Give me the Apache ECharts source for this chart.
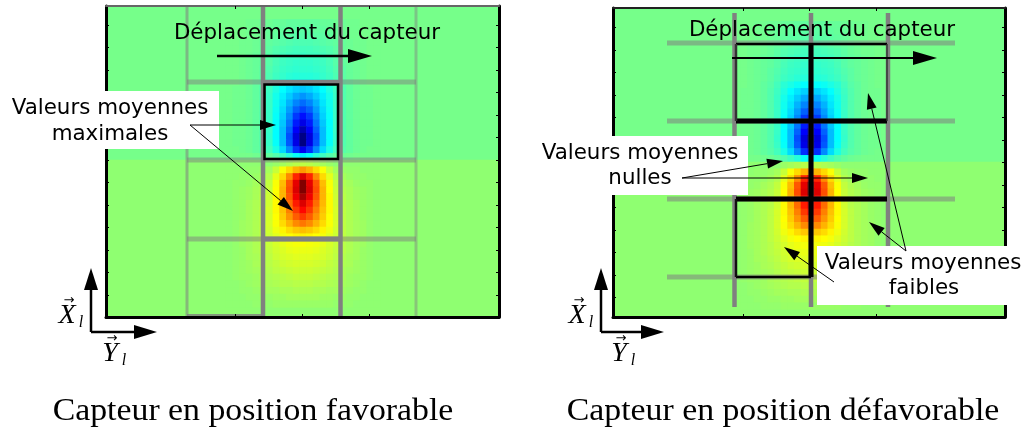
<!DOCTYPE html>
<html>
<head>
<meta charset="utf-8">
<title>Capteur</title>
<script src="https://cdn.jsdelivr.net/npm/echarts@6/dist/echarts.min.js"></script>
<style>
  html, body { margin: 0; padding: 0; background: #fff; }
  #chart { width: 1027px; height: 432px; }
</style>
</head>
<body>
<div id="chart"></div>
<script>
// champ, en % de la valeur max (-100 bleu fonce, +100 rouge fonce)
const fieldValues = [
  [-2,-2,-2,-3,-3,-4,-4,-5,-5,-6,-6,-6,-6,-6,-5,-5,-4,-4,-3,-3,-2,-2,-2],
  [-2,-2,-2,-3,-3,-4,-5,-5,-6,-6,-7,-7,-7,-6,-6,-5,-5,-4,-3,-3,-2,-2,-2],
  [-2,-2,-2,-3,-3,-4,-5,-6,-7,-7,-8,-8,-8,-7,-7,-6,-5,-4,-3,-3,-2,-2,-2],
  [-2,-2,-3,-3,-4,-5,-6,-7,-8,-9,-10,-10,-10,-9,-8,-7,-6,-5,-4,-3,-3,-2,-2],
  [-2,-2,-3,-3,-4,-5,-7,-9,-10,-11,-12,-12,-12,-11,-10,-9,-7,-5,-4,-3,-3,-2,-2],
  [-2,-2,-3,-4,-5,-6,-8,-10,-12,-13,-13,-14,-13,-13,-12,-10,-8,-6,-5,-4,-3,-2,-2],
  [-2,-2,-3,-4,-5,-6,-8,-11,-13,-14,-15,-15,-15,-14,-13,-11,-8,-6,-5,-4,-3,-2,-2],
  [-2,-2,-3,-4,-5,-7,-9,-12,-14,-15,-16,-16,-16,-15,-14,-12,-9,-7,-5,-4,-3,-2,-2],
  [-2,-2,-3,-4,-5,-7,-10,-13,-15,-17,-18,-18,-18,-17,-15,-13,-10,-7,-5,-4,-3,-2,-2],
  [-2,-2,-3,-4,-6,-8,-12,-17,-20,-23,-25,-26,-25,-23,-20,-17,-12,-8,-6,-4,-3,-2,-2],
  [-2,-3,-3,-4,-6,-9,-13,-19,-25,-30,-34,-36,-34,-30,-25,-19,-13,-9,-6,-4,-3,-3,-2],
  [-2,-3,-3,-4,-6,-9,-14,-21,-28,-35,-42,-46,-42,-35,-28,-21,-14,-9,-6,-4,-3,-3,-2],
  [-2,-3,-3,-4,-6,-9,-14,-22,-30,-40,-49,-54,-49,-40,-30,-22,-14,-9,-6,-4,-3,-3,-2],
  [-2,-3,-3,-4,-6,-9,-14,-23,-32,-44,-56,-62,-56,-44,-32,-23,-14,-9,-6,-4,-3,-3,-2],
  [-2,-3,-3,-4,-6,-9,-14,-24,-34,-48,-64,-72,-64,-48,-34,-24,-14,-9,-6,-4,-3,-3,-2],
  [-2,-3,-3,-4,-6,-9,-14,-25,-36,-52,-70,-80,-70,-52,-36,-25,-14,-9,-6,-4,-3,-3,-2],
  [-2,-3,-3,-4,-6,-9,-14,-25,-38,-56,-76,-90,-76,-56,-38,-25,-14,-9,-6,-4,-3,-3,-2],
  [-2,-3,-3,-4,-6,-9,-15,-25,-38,-60,-82,-99,-82,-60,-38,-25,-15,-9,-6,-4,-3,-3,-2],
  [-2,-3,-3,-4,-6,-9,-14,-24,-38,-58,-80,-100,-80,-58,-38,-24,-14,-9,-6,-4,-3,-3,-2],
  [-2,-2,-3,-4,-6,-8,-12,-20,-32,-48,-66,-78,-66,-48,-32,-20,-12,-8,-6,-4,-3,-2,-2],
  [-2,-2,-2,-2,-3,-4,-6,-9,-13,-18,-24,-28,-24,-18,-13,-9,-6,-4,-3,-2,-2,-2,-2],
  [3,3,3,3,3,3,3,5,7,9,11,12,11,9,7,5,3,3,3,3,3,3,3],
  [3,3,3,4,4,5,7,14,24,32,40,45,40,32,24,14,7,5,4,4,3,3,3],
  [3,3,4,4,5,7,10,20,32,48,68,82,68,48,32,20,10,7,5,4,4,3,3],
  [3,4,4,5,7,9,13,24,38,58,80,100,80,58,38,24,13,9,7,5,4,4,3],
  [3,4,5,6,8,10,14,25,40,60,82,100,82,60,40,25,14,10,8,6,5,4,3],
  [3,4,5,6,8,11,15,26,40,58,78,92,78,58,40,26,15,11,8,6,5,4,3],
  [3,4,5,7,9,11,16,26,39,54,70,82,70,54,39,26,16,11,9,7,5,4,3],
  [3,4,5,7,9,12,17,26,37,50,64,74,64,50,37,26,17,12,9,7,5,4,3],
  [3,4,5,7,9,12,17,25,35,46,57,64,57,46,35,25,17,12,9,7,5,4,3],
  [3,4,6,7,9,12,17,24,32,40,48,52,48,40,32,24,17,12,9,7,6,4,3],
  [3,4,6,7,9,12,16,22,27,32,36,38,36,32,27,22,16,12,9,7,6,4,3],
  [3,4,6,7,9,12,15,19,23,25,27,28,27,25,23,19,15,12,9,7,6,4,3],
  [3,4,6,7,9,11,14,17,20,22,23,24,23,22,20,17,14,11,9,7,6,4,3],
  [3,4,5,7,9,11,13,16,18,20,21,21,21,20,18,16,13,11,9,7,5,4,3],
  [3,4,5,7,8,10,12,15,17,18,19,19,19,18,17,15,12,10,8,7,5,4,3],
  [3,4,5,6,8,9,11,13,15,16,17,17,17,16,15,13,11,9,8,6,5,4,3],
  [3,4,5,6,7,8,10,12,13,14,15,15,15,14,13,12,10,8,7,6,5,4,3],
  [3,4,5,5,6,8,9,10,11,12,13,13,13,12,11,10,9,8,6,5,5,4,3],
  [3,3,4,5,6,7,8,9,10,10,11,11,11,10,10,9,8,7,6,5,4,3,3],
  [3,3,4,4,5,6,7,7,8,8,9,9,9,8,8,7,7,6,5,4,4,3,3],
  [3,3,3,4,4,5,5,6,6,7,7,7,7,7,6,6,5,5,4,4,3,3,3],
  [3,3,3,3,4,4,4,5,5,5,5,5,5,5,5,5,4,4,4,3,3,3,3]
];
// fond du champ : moitie haute, moitie basse
const backgroundValues = [-2, 3];
const xTickValues = [-1, 0, 1];
const yTickValues = [-6, -5, -4, -3, -2, -1, 0, 1, 2, 3, 4, 5, 6];

const jet = ['#000080', '#0000ff', '#0080ff', '#00ffff', '#80ff80', '#ffff00', '#ff8000', '#ff0000', '#800000'];
const sans = '21.4px "DejaVu Sans"';
const serif = '31px "Liberation Serif"';

const panels = [
  { left: 106, right: 499, top: 6, bottom: 317, cx: 303, cy: 160, tickX: 302, tickY: 160, pitchX: 67, topColor: '#666' },
  { left: 613, right: 1005, top: 8, bottom: 317, cx: 811, cy: 162, tickX: 809.5, tickY: 162.5, pitchX: 66.7, topColor: '#222' }
];
const cell = 6.7;
const pitchY = 22.5;

const option = {
  animation: false,
  backgroundColor: '#fff',
  visualMap: { show: false, min: -100, max: 100, dimension: 2, inRange: { color: jet } },
  grid: [], xAxis: [], yAxis: [], series: [],
  graphic: { elements: [] }
};

function hiddenCategory(gridIndex, data, extra) {
  return Object.assign({
    type: 'category', gridIndex, data,
    axisLine: { show: false }, axisTick: { show: false }, axisLabel: { show: false }, splitLine: { show: false }
  }, extra);
}

function frameAxis(gridIndex, position, min, max, customValues, lineWidth, color) {
  return {
    type: 'value', gridIndex, position, min, max, z: 5,
    axisLine: { show: true, onZero: false, lineStyle: { color: color || '#000', width: lineWidth } },
    axisTick: { show: true, inside: true, length: 3, customValues, lineStyle: { color: '#000', width: 1 } },
    axisLabel: { show: false }, splitLine: { show: false }
  };
}

function addHeatmap(box, rows) {
  const g = option.grid.length;
  const xi = option.xAxis.length, yi = option.yAxis.length;
  option.grid.push(Object.assign({ outerBoundsMode: 'none' }, box));
  option.xAxis.push(hiddenCategory(g, rows[0].map((v, i) => i)));
  option.yAxis.push(hiddenCategory(g, rows.map((v, i) => i), { inverse: true }));
  const data = [];
  rows.forEach((row, y) => row.forEach((v, x) => data.push([x, y, v])));
  option.series.push({ type: 'heatmap', xAxisIndex: xi, yAxisIndex: yi, data, z: 2, progressive: 0, silent: true });
}

panels.forEach(p => {
  const w = p.right - p.left, h = p.bottom - p.top;
  addHeatmap({ left: p.left, top: p.top, width: w, height: p.cy - p.top }, [[backgroundValues[0]]]);
  addHeatmap({ left: p.left, top: p.cy, width: w, height: p.bottom - p.cy }, [[backgroundValues[1]]]);
  const rowsAbove = 21;
  addHeatmap({
    left: p.cx - 11.5 * cell, top: p.cy - rowsAbove * cell,
    width: 23 * cell, height: fieldValues.length * cell
  }, fieldValues);

  // cadre et graduations
  const g = option.grid.length;
  option.grid.push({ left: p.left, top: p.top, width: w, height: h, outerBoundsMode: 'none' });
  const xMin = (p.left - p.tickX) / p.pitchX, xMax = (p.right - p.tickX) / p.pitchX;
  const yMin = (p.tickY - p.bottom) / pitchY, yMax = (p.tickY - p.top) / pitchY;
  option.xAxis.push(frameAxis(g, 'bottom', xMin, xMax, xTickValues, 3));
  option.xAxis.push(frameAxis(g, 'top', xMin, xMax, xTickValues, 2, p.topColor));
  option.yAxis.push(frameAxis(g, 'left', yMin, yMax, yTickValues, 3));
  option.yAxis.push(frameAxis(g, 'right', yMin, yMax, yTickValues, 3));
  // une serie vide par grille pour garder les axes
  option.series.push({ type: 'scatter', xAxisIndex: option.xAxis.length - 1, yAxisIndex: option.yAxis.length - 1, data: [], silent: true });
});

const els = option.graphic.elements;
const Z_LINES = 3, Z_BOX = 6, Z_TEXT = 7, Z_ARROW = 8;

function seg(x1, y1, x2, y2, width, color, opacity, z) {
  els.push({
    type: 'line', silent: true, z: z || Z_LINES,
    shape: { x1, y1, x2, y2 },
    style: { stroke: color, lineWidth: width, opacity: opacity === undefined ? 1 : opacity }
  });
}
function arrow(x1, y1, x2, y2, width, headLen, headW) {
  const len = Math.hypot(x2 - x1, y2 - y1);
  const ux = (x2 - x1) / len, uy = (y2 - y1) / len;
  const bx = x2 - ux * headLen, by = y2 - uy * headLen;
  seg(x1, y1, bx, by, width, '#000', 1, Z_ARROW);
  els.push({
    type: 'polygon', silent: true, z: Z_ARROW,
    shape: { points: [[x2, y2], [bx - uy * headW / 2, by + ux * headW / 2], [bx + uy * headW / 2, by - ux * headW / 2]] },
    style: { fill: '#000' }
  });
}
function whiteBox(x, y, width, height) {
  els.push({ type: 'rect', silent: true, z: Z_BOX, shape: { x, y, width, height }, style: { fill: '#fff' } });
}
function label(text, x, y, font, scaleX) {
  els.push({
    type: 'text', silent: true, z: Z_TEXT, x, y, scaleX: scaleX || 1,
    style: { text, x: 0, y: 0, font: font || sans, fill: '#000', align: 'center', verticalAlign: 'middle' }
  });
}
function axisMark(letter, x, y) {
  label(letter, x, y, 'italic 28px "Liberation Serif"');
  label('l', x + 14, y + 7, 'italic 16px "Liberation Serif"');
  label('\u2192', x + 2, y - 15, '13px "DejaVu Sans"');
}

const GRAY = '#808080';

// --- panneau de gauche ---
seg(187, 6, 187, 316, 3, GRAY, 0.55);
seg(416, 6, 416, 316, 3, GRAY, 0.45);
[82, 160, 239].forEach(y => seg(187, y, 416, y, 5, GRAY, 0.5));
seg(264, 82, 339, 82, 4, GRAY);
seg(264, 239, 339, 239, 5, GRAY);
seg(187, 315, 263, 315, 2, GRAY, 0.8);
seg(263, 6, 263, 316, 4.5, GRAY);
seg(340.5, 6, 340.5, 316, 4.5, GRAY);
els.push({ type: 'rect', silent: true, z: Z_LINES, shape: { x: 264.5, y: 84.5, width: 73.5, height: 74.5 }, style: { fill: null, stroke: '#000', lineWidth: 2.5 } });

label('Déplacement du capteur', 307, 33);
arrow(217, 56, 372, 56, 2.5, 24, 14);
whiteBox(0, 91, 219, 58);
label('Valeurs moyennes', 110, 108);
label('maximales', 110, 134);
arrow(190, 125, 276, 125, 1, 16, 10);
arrow(190, 125, 293, 211, 1, 16, 10);

arrow(91, 332, 91, 268, 2.5, 22, 14);
arrow(91, 332, 157, 332, 2.5, 23, 14);
axisMark('X', 67, 316);
axisMark('Y', 110, 354);
label('Capteur en position favorable', 253, 412, serif, 1.09);

// --- panneau de droite ---
[43, 121, 199, 277].forEach(y => seg(667, y, 955, y, 5, GRAY, 0.55));
seg(734.5, 13, 734.5, 307, 4.5, GRAY);
seg(811, 13, 811, 307, 4.5, GRAY);
seg(888, 13, 888, 307, 4.5, GRAY);
seg(736, 44, 887, 44, 2.5, '#000');
seg(736, 121, 887, 121, 5, '#000');
seg(736, 199, 887, 199, 5, '#000');
seg(736, 277, 811, 277, 2.5, '#000');
seg(811, 44, 811, 277, 5, '#000');
seg(736, 44, 736, 121, 2.5, '#333');
seg(736, 199, 736, 277, 2.5, '#111');
seg(887, 44, 887, 121, 1.5, '#333');

label('Déplacement du capteur', 822, 30);
arrow(732, 58, 937, 58, 2, 24, 14);

whiteBox(530, 136, 218, 59);
label('Valeurs moyennes', 640, 153);
label('nulles', 640, 178);
arrow(682, 178, 783, 161, 1, 16, 10);
arrow(682, 178, 868, 178, 1, 16, 10);

whiteBox(817, 246, 190, 59);
label('Valeurs moyennes', 923, 263);
label('faibles', 924, 288);
arrow(906, 251, 868, 93, 1, 16, 10);
arrow(906, 251, 869, 222, 1, 16, 10);
arrow(834, 282, 784, 247, 1, 16, 10);

arrow(601, 332, 601, 268, 2.5, 22, 14);
arrow(601, 332, 664, 332, 2.5, 23, 14);
axisMark('X', 577, 316);
axisMark('Y', 619, 354);
label('Capteur en position défavorable', 783, 412, serif, 1.09);

const myChart = echarts.init(document.getElementById('chart'), null, { renderer: 'canvas' });
myChart.setOption(option);
</script>
</body>
</html>
